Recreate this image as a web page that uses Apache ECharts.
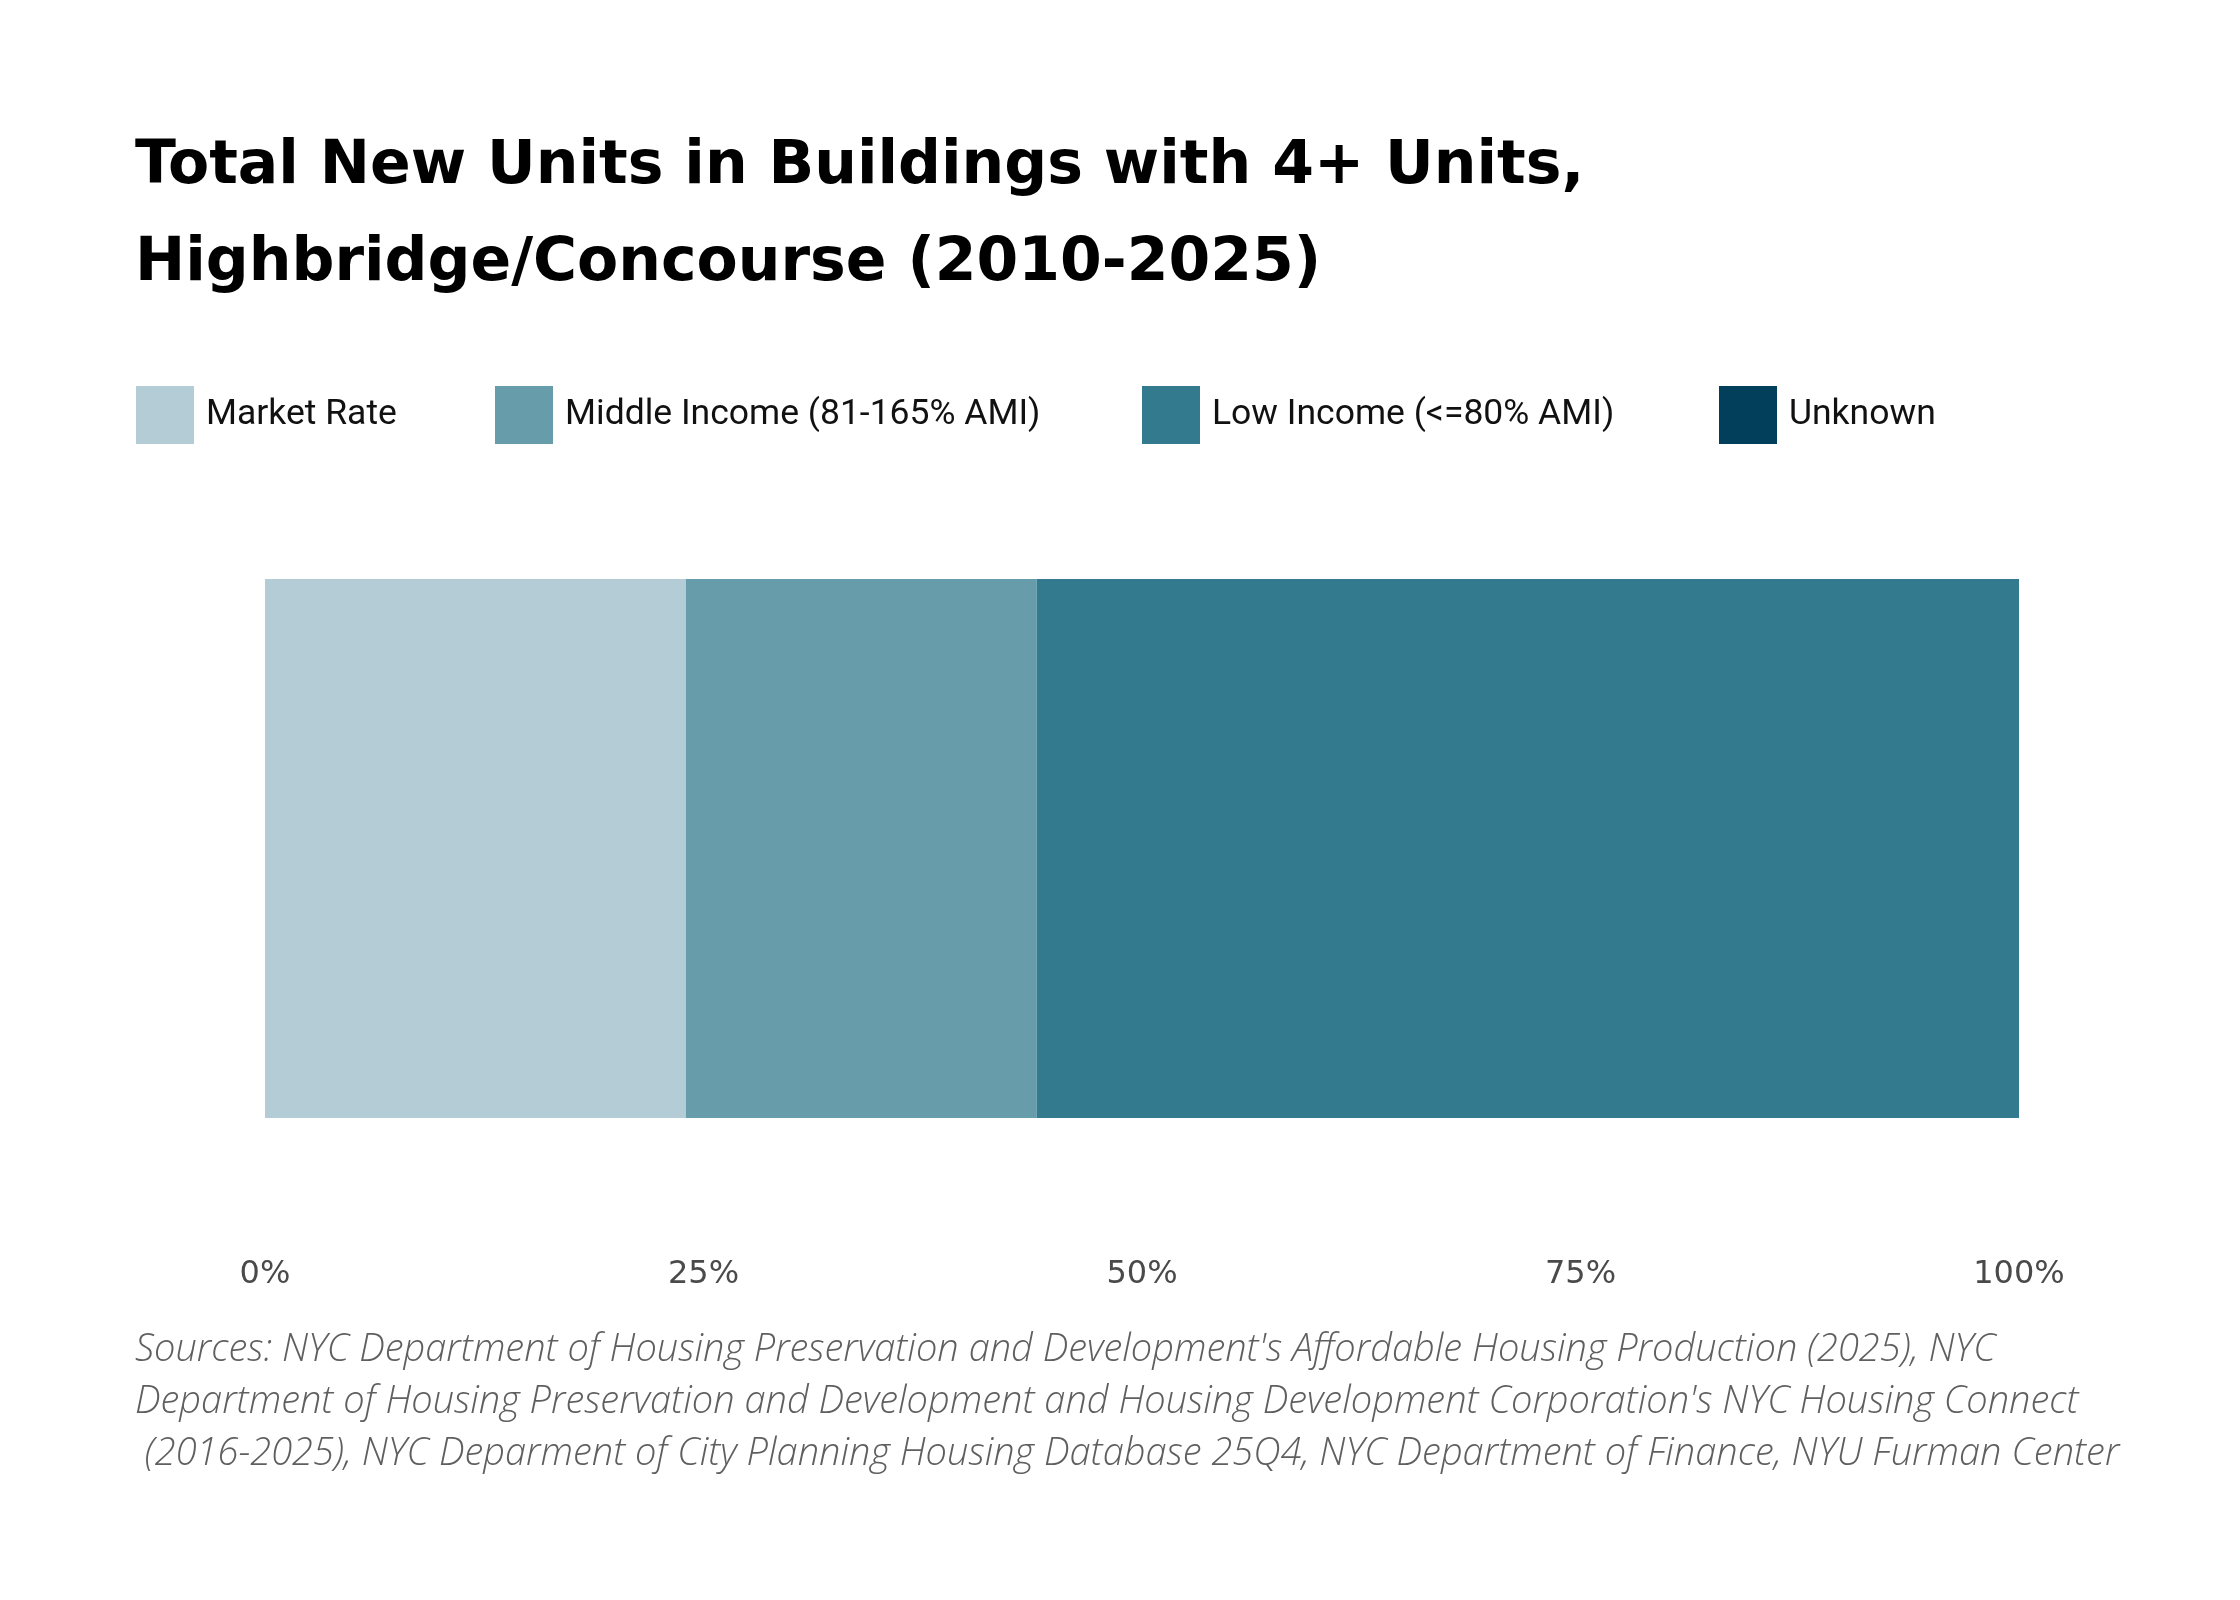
<!DOCTYPE html>
<html lang="en">
<head>
    <meta charset="UTF-8">
    <title>Total New Units, Highbridge/Concourse</title>
    <script src="https://cdn.jsdelivr.net/npm/echarts@6/dist/echarts.min.js"></script>
    <style>
        html, body { margin: 0; padding: 0; background: #fff; }
        #main { width: 2240px; height: 1600px; }
    </style>
</head>
<body>
<div id="main"></div>
<script type="text/javascript">
    // data (share of new units, %)
    var categories = ['Highbridge/Concourse'];
    var seriesNames = ['Market Rate', 'Middle Income (81-165% AMI)', 'Low Income (<=80% AMI)', 'Unknown'];
    var marketRate = [24];
    var middleIncome = [20];
    var lowIncome = [56];
    var unknown = [0];
    var tickLabels = ['0%', '25%', '50%', '75%', '100%'];

    var colors = ['#b4ccd5', '#679cab', '#347a8f', '#023f5a'];
    var seriesData = [marketRate, middleIncome, lowIncome, unknown];
    // left edge of each legend square
    var legendLeft = [136, 495, 1142, 1719];

    var myChart = echarts.init(document.getElementById('main'));

    var legends = seriesNames.map(function (name, i) {
        return {
            data: [name],
            left: legendLeft[i],
            top: 386,
            padding: 0,
            icon: 'rect',
            itemWidth: 58,
            itemHeight: 58,
            itemGap: 0,
            selectedMode: false,
            textStyle: {
                fontFamily: 'Roboto',
                fontSize: 35.5,
                color: '#111',
                padding: [0, 0, 0, 7]
            }
        };
    });

    var series = seriesNames.map(function (name, i) {
        return {
            name: name,
            type: 'bar',
            stack: 'total',
            barCategoryGap: 0,
            itemStyle: {color: colors[i]},
            data: seriesData[i]
        };
    });

    myChart.setOption({
        backgroundColor: '#fff',
        animation: false,
        color: colors,
        title: [
            {
                text: 'Total New Units in Buildings with 4+ Units,\nHighbridge/Concourse (2010-2025)',
                left: 135,
                top: 119,
                padding: 0,
                textStyle: {
                    fontFamily: 'DejaVu Sans',
                    fontWeight: 'bold',
                    fontSize: 60,
                    lineHeight: 97,
                    color: '#000'
                }
            },
            {
                text: "Sources: NYC Department of Housing Preservation and Development's Affordable Housing Production (2025), NYC\n" +
                    "Department of Housing Preservation and Development and Housing Development Corporation's NYC Housing Connect\n" +
                    " (2016-2025), NYC Deparment of City Planning Housing Database 25Q4, NYC Department of Finance, NYU Furman Center",
                left: 135,
                top: 1324,
                padding: 0,
                textStyle: {
                    fontFamily: 'Open Sans',
                    fontStyle: 'italic',
                    fontWeight: 300,
                    fontSize: 38,
                    lineHeight: 52,
                    color: '#5f5f5f'
                }
            }
        ],
        legend: legends,
        grid: {
            left: 265,
            right: 221,
            top: 579,
            bottom: 482,
            containLabel: false
        },
        xAxis: {
            type: 'value',
            min: 0,
            max: 100,
            interval: 25,
            axisLine: {show: false},
            axisTick: {show: false},
            splitLine: {show: false},
            axisLabel: {
                margin: 141,
                fontFamily: 'DejaVu Sans',
                fontSize: 32,
                color: '#4a4a4a',
                formatter: function (v) {
                    return tickLabels[Math.round(v / 25)];
                }
            }
        },
        yAxis: {
            type: 'category',
            data: categories,
            axisLine: {show: false},
            axisTick: {show: false},
            axisLabel: {show: false}
        },
        series: series
    });
</script>
</body>
</html>
